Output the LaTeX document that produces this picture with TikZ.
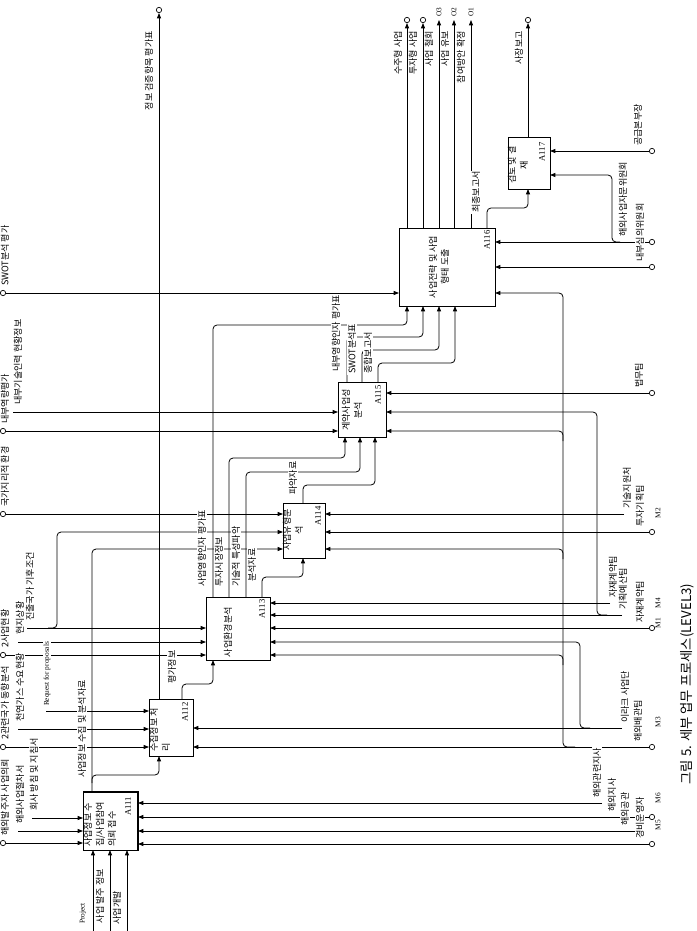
\documentclass[tikz,border=0pt]{standalone}
\usepackage{fontspec}
\setmainfont{Noto Sans CJK KR}
\newfontfamily\idfont{Liberation Serif}
\usetikzlibrary{arrows.meta}

\begin{document}
\begin{tikzpicture}[x=0.75pt, y=-0.75pt, line width=0.6pt,
 every node/.style={font=\fontsize{6.8}{9}\selectfont, inner sep=0.5pt},
 box/.style={draw, inner sep=0, outer sep=0},
 boxtxt/.style={rotate=90, align=left},
 idlab/.style={rotate=90, font=\idfont\fontsize{6.5}{7}\selectfont},
 lab/.style={rotate=90, fill=white},
 code/.style={rotate=90, font=\idfont\fontsize{5.5}{6}\selectfont},
 arr/.style={-{Triangle[length=4pt,width=3pt]}, rounded corners=3pt},
 tun/.style={draw, circle, inner sep=0, minimum size=4pt, line width=0.5pt}]
\useasboundingbox (0,0) rectangle (696,931);

\node[box, minimum width=41.25pt, minimum height=43.5pt] (a111) at (110.5,821) {};
\node[box, minimum width=33pt, minimum height=42.75pt] (a112) at (171,727.5) {};
\node[box, minimum width=48pt, minimum height=47.25pt] (a113) at (238,628.5) {};
\node[box, minimum width=31.5pt, minimum height=41.25pt] (a114) at (304,530.5) {};
\node[box, minimum width=36pt, minimum height=41.25pt] (a115) at (362,409.5) {};
\node[box, minimum width=72pt, minimum height=58.5pt] (a116) at (447,267) {};
\node[box, minimum width=31.5pt, minimum height=39pt] (a117) at (529,163) {};
\draw[line width=2pt] (a111.north west) -- (a111.north east) -- (a111.south east);

\node[boxtxt, anchor=west] (t111) at (100,848) {사업정보 수\\집/사업참여\\의뢰 접수};
\node[boxtxt, anchor=west] (t112) at (160,753) {수집정보 처\\리};
\node[boxtxt, align=center] (t113) at (228,632) {사업환경분석};
\node[boxtxt, align=center] (t114) at (293,530) {사업유형분\\석};
\node[boxtxt, align=center] (t115) at (352,410) {계약사업성\\분석};
\node[boxtxt, align=center] (t116) at (439,267) {사업전략 및 사업\\형태 도출};
\node[boxtxt, align=center] (t117) at (518,165) {검토 및 결\\재};
\node[idlab] (n111) at (128,806) {A111}; \node[idlab] (n112) at (185,712) {A112};
\node[idlab] (n113) at (262,609) {A113}; \node[idlab] (n114) at (318,516) {A114};
\node[idlab] (n115) at (378,395) {A115}; \node[idlab] (n116) at (487,240) {A116};
\node[idlab] (n117) at (542,152) {A117};

\foreach \yy/\bx in {843/a111, 747/a112, 655/a113, 514/a114, 431/a115, 293/a116}
 {\node[tun] (tl\yy) at (3,\yy) {}; \draw[arr] (tl\yy.east) -- (\bx.west |- tl\yy);}
\foreach \yy/\xs/\bx in {831/18/a111, 818/32/a111, 729/18/a112, 711/46/a112, 642/18/a113, 628/27/a113, 412/13/a115}
 {\coordinate (cs\yy) at (\xs,\yy); \draw[arr] (cs\yy) -- (\bx.west |- cs\yy);}
\draw[arr] (48,628) -- (57,628) -- (57,532) -- (a114.west |- 0,532);

\foreach \yy/\bx in {817/a111, 844/a111, 747/a112, 628/a113, 532/a114, 393/a115, 242/a116, 267/a116, 151/a117}
 {\node[tun] (tr\yy) at (652,\yy) {}; \draw[arr] (tr\yy) -- (\bx.east |- tr\yy);}
\foreach \yy/\xs/\bx in {803/602/a111, 831/645/a111, 728/622/a112, 603/610/a113, 615/622/a113, 514/624/a114}
 {\coordinate (ms\yy) at (\xs,\yy); \draw[arr] (ms\yy) -- (\bx.east |- ms\yy);}
\draw[arr] (575,747) -- (563,747) -- (563,293) -- (a116.east |- 0,293);
\foreach \yy/\bx in {431/a115, 549/a114, 655/a113}
 {\draw[arr] (563,\yy+10) -- (563,\yy) -- (\bx.east |- 0,\yy);}
\draw[arr] (590,728) -- (580,728) -- (580,642) -- (a113.east |- 0,642);
\draw[arr] (607,615) -- (597,615) -- (597,412) -- (a115.east |- 0,412);
\draw[arr] (620,242) -- (612,242) -- (612,175) -- (a117.east |- 0,175);

\foreach \xx in {93,110,127} {\coordinate (ib\xx) at (\xx,931); \draw[arr] (ib\xx) -- (a111.south -| ib\xx);}
\draw[arr] (a111.north -| 92,0) -- (92,549) -- (a114.west |- 0,549);
\draw[arr] (92,783) -- (92,775) -- (159,775) -- (a112.south -| 159,0);
\node[tun] (to159) at (159,10) {}; \draw[arr] (a112.north -| to159) -- (to159);
\draw[arr] (a112.north -| 182,0) -- (182,684) -- (213,684) -- (a113.south -| 213,0);
\draw[arr] (a113.north -| 213,0) -- (213,325) -- (407,325) -- (a116.south -| 407,0);
\draw[arr] (a113.north -| 229,0) -- (229,458) -- (345,458) -- (a115.south -| 345,0);
\draw[arr] (a113.north -| 246,0) -- (246,472) -- (360,472) -- (a115.south -| 360,0);
\draw[arr] (a113.north -| 262,0) -- (262,577) -- (303,577) -- (a114.south -| 303,0);
\draw[arr] (a114.north -| 303,0) -- (303,485) -- (375,485) -- (a115.south -| 375,0);
\draw[arr] (a115.north -| 347,0) -- (347,337) -- (423,337) -- (a116.south -| 423,0);
\draw[arr] (a115.north -| 362,0) -- (362,350) -- (439,350) -- (a116.south -| 439,0);
\draw[arr] (a115.north -| 378,0) -- (378,363) -- (455,363) -- (a116.south -| 455,0);
\foreach \xx in {407,423} {\node[tun] (to\xx) at (\xx,20) {}; \draw[arr] (a116.north -| to\xx) -- (to\xx);}
\foreach \xx in {439,454,471} {\coordinate (oe\xx) at (\xx,20); \draw[arr] (a116.north -| oe\xx) -- (oe\xx);}
\draw[arr] (a116.north -| 487,0) -- (487,208) -- (528,208) -- (a117.south -| 528,0);
\node[tun] (to528) at (528,20) {}; \draw[arr] (a117.north -| to528) -- (to528);

\foreach \yy/\lx/\txt in {843/5/해외발주자 사업의뢰, 831/20/해외사업절차서, 818/34/회사 방침 및 지침서,
 747/5/2관련국가 동향분석, 729/20/천연가스 수요현황, 655/5/2사업현황, 642/20/현지상황,
 628/30/진출국가 기후조건, 514/5/국가지리적 환경, 431/5/내부역량평가, 412/18/내부기술인력 현황정보,
 293/5/SWOT분석 평가}
 {\node[lab, anchor=west] (cl\yy) at (\lx,\yy-6) {\txt};}
\node[lab, anchor=west, font=\idfont\fontsize{5.5}{6}\selectfont] (cl711) at (47,707) {Request for proposals};
\foreach \yy/\lx/\txt in {803/597/해외관련지사, 817/612/해외지사, 831/625/해외공관, 844/640/경비운영자,
 728/625/이라크 사업단, 747/638/해외배관팀, 603/613/자재계약팀, 615/623/기획예산팀, 628/640/자재계약팀,
 514/627/기술지원처, 532/640/투자기획팀, 393/639/법무팀, 242/623/해외사업자문위원회,
 267/640/내부심의위원회, 151/638/공급본부장}
 {\node[lab, anchor=west] (ml\yy) at (\lx,\yy-4) {\txt};}
\foreach \yy/\cd in {798/M6, 825/M5, 722/M3, 603/M4, 623/M1, 513/M2} {\node[code] (k\cd) at (658,\yy) {\cd};}
\foreach \xx/\cd in {439/O3, 454/O2, 471/O1} {\node[code] (k\cd) at (\xx,12) {\cd};}
\foreach \lx/\txt in {149/정보 검증항목 평가표, 398/수주형 사업, 413/투자형 사업, 429/사업 철회,
 445/사업 유보, 461/참여방안 확정, 519/사장보고}
 {\node[lab, anchor=east] (ol\lx) at (\lx,30) {\txt};}
\node[lab, anchor=east, font=\idfont\fontsize{5.5}{6}\selectfont] (il83) at (83,902) {Project};
\node[lab, anchor=east] (il100) at (100,868) {사업 발주 정보};
\node[lab, anchor=east] (il117) at (117,890) {사업개발};
\node[lab, anchor=west] (il82) at (82,779) {사업정보 수집 및 분석자료};
\node[lab, anchor=west] (il172) at (172,685) {평가정보};
\node[lab, anchor=west] (il202) at (202,588) {사업영향인자 평가표};
\node[lab, anchor=west] (il219) at (219,588) {투자시장정보};
\node[lab, anchor=west] (il236) at (236,588) {기술적 특성파악};
\node[lab, anchor=west] (il252) at (252,583) {분석자료};
\node[lab, anchor=west] (il293) at (293,496) {파악자료};
\node[lab, anchor=west] (il336) at (336,373) {내부영향인자 평가표};
\node[lab, anchor=west] (il352) at (352,375) {SWOT분석표};
\node[lab, anchor=west] (il368) at (368,375) {종합보고서};
\node[lab, anchor=west] (il476) at (476,214) {최종보고서};
\node[rotate=90, font=\fontsize{10}{12}\selectfont] (cap) at (687,684) {그림 5. 세부 업무 프로세스(LEVEL3)};
\end{tikzpicture}
\end{document}
